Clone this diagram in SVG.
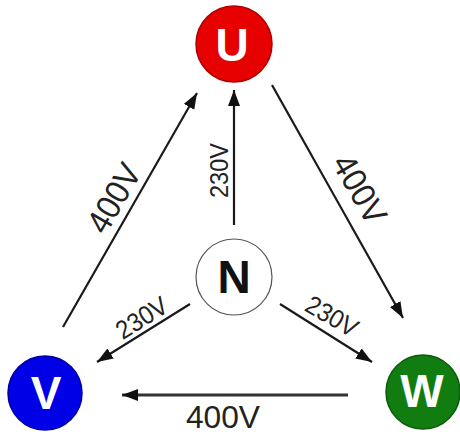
<svg xmlns="http://www.w3.org/2000/svg" width="460" height="434" viewBox="0 0 460 434">
<defs>
<style>
.node{stroke-width:1.5}
.let{font-family:"Liberation Sans",Arial,sans-serif;font-weight:bold;font-size:46px;text-anchor:middle}
.big{font-family:"Liberation Sans",Arial,sans-serif;font-size:34px;text-anchor:middle;fill:#222}
.small{font-family:"Liberation Sans",Arial,sans-serif;font-size:26px;text-anchor:middle;fill:#222}
.arr{stroke:#1a1a1a;stroke-width:2.2;fill:none;marker-end:url(#ah)}
</style>
<marker id="ah" markerUnits="userSpaceOnUse" markerWidth="18" markerHeight="14" refX="16" refY="6" orient="auto">
<path d="M0,0 L16,6 L0,12 z" fill="#111"/>
</marker>
</defs>
<rect width="460" height="434" fill="#fff"/>
<g id="connectors">
<line class="arr" x1="234" y1="225" x2="234" y2="90"/>
<line class="arr" x1="63" y1="327" x2="197" y2="93"/>
<line class="arr" x1="272" y1="85" x2="403" y2="318"/>
<line class="arr" x1="190" y1="304" x2="97" y2="362"/>
<line class="arr" x1="280" y1="304" x2="372" y2="362"/>
<line class="arr" x1="348" y1="395" x2="122" y2="395" style="stroke-width:3;stroke:#333"/>
<text class="small" transform="translate(228,170.5) rotate(-90)" textLength="55" lengthAdjust="spacingAndGlyphs">230V</text>
<text class="big" transform="translate(124,204) rotate(-60)" textLength="74" lengthAdjust="spacingAndGlyphs">400V</text>
<text class="big" transform="translate(349.6,195) rotate(60)" textLength="74" lengthAdjust="spacingAndGlyphs">400V</text>
<text class="small" transform="translate(146.4,325.4) rotate(-32)" textLength="56" lengthAdjust="spacingAndGlyphs">230V</text>
<text class="small" transform="translate(327.4,324) rotate(30)" textLength="56" lengthAdjust="spacingAndGlyphs">230V</text>
<text class="big" x="223" y="428" style="font-size:31px" textLength="74" lengthAdjust="spacingAndGlyphs">400V</text>
</g>
<g id="U">
<circle class="node" cx="234" cy="44" r="38" fill="#e60000" stroke="#b00000"/>
<text class="let" x="232" y="61" fill="#fff">U</text>
</g>
<g id="V">
<circle class="node" cx="45" cy="393" r="37" fill="#0000e6" stroke="#0000a0"/>
<text class="let" x="46" y="409" fill="#fff">V</text>
</g>
<g id="W">
<circle class="node" cx="423" cy="392" r="37" fill="#117d11" stroke="#0a5a0a"/>
<text class="let" x="422" y="407" fill="#fff">W</text>
</g>
<g id="N">
<circle cx="234" cy="277" r="38" fill="#fff" stroke="#555" stroke-width="1.2"/>
<text class="let" x="234" y="293" fill="#111">N</text>
</g>
</svg>
